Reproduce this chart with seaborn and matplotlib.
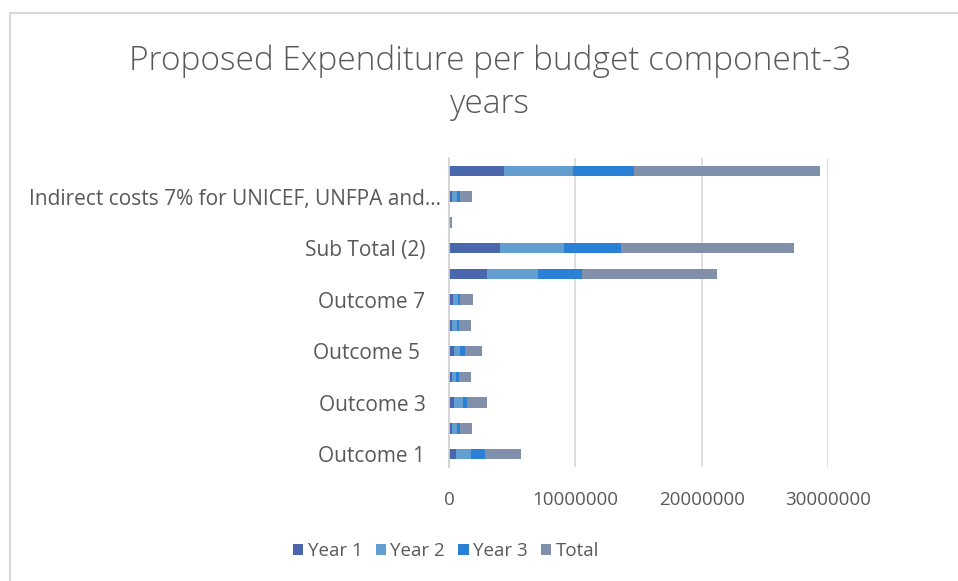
import numpy as np
import pandas as pd
import matplotlib
matplotlib.use("Agg")
import matplotlib.pyplot as plt
from matplotlib.transforms import ScaledTranslation
import seaborn as sns

categories = [
    "Grand Total",
    "Indirect costs 7% for UNICEF, UNFPA and UNDP",
    "Contingency",
    "Sub Total (2)",
    "Sub Total (1)",
    "Outcome 7",
    "Outcome 6",
    "Outcome 5",
    "Outcome 4",
    "Outcome 3",
    "Outcome 2",
    "Outcome 1",
]
shown_labels = [
    "",
    "Indirect costs 7% for UNICEF, UNFPA and\u2026",
    "",
    "Sub Total (2)",
    "",
    "Outcome 7",
    "",
    "Outcome 5 ",
    "",
    "Outcome 3",
    "",
    "Outcome 1",
]
year1 = [4350000, 240000, 20000, 4040000, 3010000, 300000, 240000, 400000, 240000, 400000, 240000, 550000]
year2 = [5440000, 370000, 20000, 5040000, 4010000, 400000, 390000, 450000, 310000, 710000, 390000, 1170000]
year3 = [4880000, 260000, 20000, 4540000, 3540000, 180000, 160000, 440000, 270000, 320000, 240000, 1130000]
total = [14670000, 980000, 200000, 13670000, 10630000, 990000, 980000, 1320000, 950000, 1580000, 980000, 2880000]

series = ["Year 1", "Year 2", "Year 3", "Total"]
colors = ["#4a66ac", "#629fd0", "#2a7fd6", "#8190aa"]

df = pd.DataFrame({"component": categories, "Year 1": year1, "Year 2": year2,
                   "Year 3": year3, "Total": total})
cum = df[series].cumsum(axis=1)
cum["component"] = df["component"]

sns.set_theme(style="white")
plt.rcParams["font.family"] = ["Open Sans", "DejaVu Sans"]
text_col = "#595959"

fig = plt.figure(figsize=(9.58, 5.81), dpi=100)
ax = fig.add_axes([449 / 958, 1 - 467 / 581, (828 - 449) / 958, (467 - 158) / 581])

# stacked bars: draw cumulative sums from largest to smallest
for s, c in reversed(list(zip(series, colors))):
    sns.barplot(data=cum, y="component", x=s, order=categories, color=c,
                width=0.4, orient="h", ax=ax, saturation=1, linewidth=0,
                label=s, legend=False)
if ax.get_legend() is not None:
    ax.get_legend().remove()

ax.set_xlim(0, 30000000)
ax.set_xticks([0, 10000000, 20000000, 30000000])
ax.set_xticklabels(["0", "10000000", "20000000", "30000000"])
ax.set_yticks(range(len(categories)))
ax.set_yticklabels(shown_labels)
ax.set_xlabel("")
ax.set_ylabel("")
ax.tick_params(axis="x", length=0, labelsize=13.5, colors=text_col, pad=17)
ax.tick_params(axis="y", length=0, labelsize=15, colors=text_col, pad=17)
ax.grid(axis="x", color="#d9d9d9", linewidth=1.2)
ax.set_axisbelow(True)
for sp in ["top", "right", "bottom"]:
    ax.spines[sp].set_visible(False)
ax.spines["left"].set_color("#d0d0d0")
ax.spines["left"].set_linewidth(1.2)

# the long label sits closer to the axis in the original
lbl = ax.get_yticklabels()[1]
lbl.set_transform(lbl.get_transform() + ScaledTranslation(0.16, 0, fig.dpi_scale_trans))

fig.text(490 / 958, 1 - 61 / 581, "Proposed Expenditure per budget component-3",
         ha="center", va="center", fontsize=24, color=text_col, fontweight="light")
fig.text(490 / 958, 1 - 104 / 581, "years",
         ha="center", va="center", fontsize=24, color=text_col, fontweight="light")

handles = [plt.Rectangle((0, 0), 1, 1, facecolor=c, edgecolor="none") for c in colors]
fig.legend(handles, series, loc="center",
           bbox_to_anchor=(446 / 958, 1 - 551 / 581), ncol=4, frameon=False,
           fontsize=13.5, labelcolor=text_col, handlelength=0.55, handleheight=0.55,
           handletextpad=0.25, columnspacing=0.7)

fig.patches.append(plt.Rectangle((10 / 958, -0.1), 1.2, 1 - 13 / 581 + 0.1,
                                 transform=fig.transFigure, fill=False,
                                 edgecolor="#d9d9d9", linewidth=1.5))

fig.savefig("out.png", dpi=100, facecolor="white")
